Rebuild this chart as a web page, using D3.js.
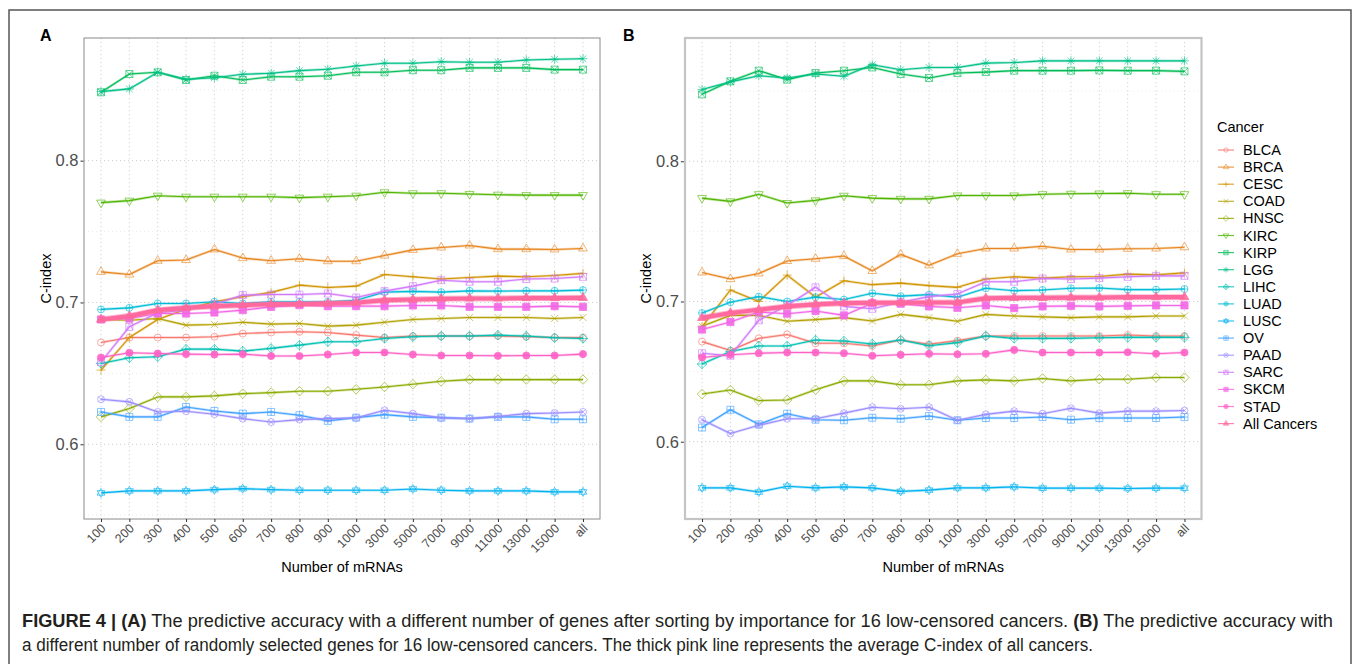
<!DOCTYPE html>
<html><head><meta charset="utf-8">
<script src="https://cdn.jsdelivr.net/npm/d3@7"></script>
<style>
body{margin:0;background:#fff;}
svg{display:block;font-family:"Liberation Sans",Arial,sans-serif;}
</style></head>
<body><svg id="c" width="1358" height="664"></svg>
<script>
// ---------------- data ----------------
const categories = ["100","200","300","400","500","600","700","800","900","1000","3000","5000","7000","9000","11000","13000","15000","all"];
const cancers = ["BLCA","BRCA","CESC","COAD","HNSC","KIRC","KIRP","LGG","LIHC","LUAD","LUSC","OV","PAAD","SARC","SKCM","STAD","All Cancers"];
const cancerColors = ["#F8766D","#E7851E","#D09400","#B2A100","#8BAB00","#4FB500","#00BC56","#00C087","#00C0B2","#00BCD6","#00B2F0","#3FA1FF","#9A8DFF","#D177FC","#F266E6","#FE61C6","#FF699E"];
const cancerShapes = [1,2,3,4,5,6,7,8,9,10,11,12,13,14,15,16,17];
const yTicks = [0.6,0.7,0.8];
const yMinorTicks = [0.55,0.65,0.75,0.85];

// Panel A: sorted by importance
const a_BLCA = [0.6718,0.6753,0.6753,0.6753,0.6758,0.6781,0.6788,0.6793,0.6788,0.6770,0.6753,0.6763,0.6763,0.6763,0.6763,0.6758,0.6753,0.6753];
const a_BRCA = [0.7216,0.7197,0.7294,0.7299,0.7374,0.7313,0.7294,0.7308,0.7291,0.7291,0.7331,0.7371,0.7388,0.7402,0.7376,0.7376,0.7374,0.7381];
const a_CESC = [0.6523,0.6753,0.6880,0.6953,0.7005,0.7040,0.7071,0.7122,0.7106,0.7115,0.7197,0.7181,0.7165,0.7176,0.7186,0.7181,0.7190,0.7205];
const a_COAD = [0.6880,0.6875,0.6887,0.6840,0.6845,0.6861,0.6847,0.6852,0.6833,0.6840,0.6861,0.6880,0.6887,0.6894,0.6894,0.6894,0.6887,0.6894];
const a_HNSC = [0.6193,0.6252,0.6334,0.6334,0.6341,0.6357,0.6364,0.6374,0.6374,0.6388,0.6404,0.6423,0.6444,0.6456,0.6456,0.6456,0.6456,0.6456];
const a_KIRC = [0.7704,0.7718,0.7753,0.7746,0.7746,0.7746,0.7746,0.7739,0.7746,0.7753,0.7777,0.7770,0.7770,0.7765,0.7760,0.7757,0.7757,0.7757];
const a_KIRP = [0.8482,0.8611,0.8623,0.8569,0.8599,0.8569,0.8592,0.8592,0.8599,0.8623,0.8623,0.8638,0.8638,0.8654,0.8654,0.8654,0.8642,0.8642];
const a_LGG  = [0.8487,0.8506,0.8623,0.8574,0.8585,0.8609,0.8616,0.8635,0.8645,0.8668,0.8687,0.8687,0.8698,0.8694,0.8694,0.8710,0.8715,0.8719];
const a_LIHC = [0.6570,0.6610,0.6617,0.6671,0.6671,0.6657,0.6676,0.6699,0.6723,0.6723,0.6746,0.6758,0.6763,0.6763,0.6770,0.6763,0.6751,0.6746];
const a_LUAD = [0.6951,0.6962,0.6993,0.6993,0.7005,0.6993,0.7005,0.7005,0.7005,0.7016,0.7073,0.7078,0.7073,0.7082,0.7080,0.7082,0.7082,0.7087];
const a_LUSC = [0.5657,0.5671,0.5671,0.5671,0.5680,0.5687,0.5680,0.5676,0.5676,0.5676,0.5676,0.5685,0.5676,0.5671,0.5671,0.5671,0.5664,0.5664];
const a_OV   = [0.6228,0.6193,0.6193,0.6263,0.6235,0.6216,0.6228,0.6205,0.6165,0.6188,0.6209,0.6193,0.6188,0.6181,0.6193,0.6193,0.6176,0.6176];
const a_PAAD = [0.6317,0.6299,0.6228,0.6233,0.6212,0.6181,0.6157,0.6174,0.6181,0.6186,0.6240,0.6216,0.6186,0.6181,0.6197,0.6216,0.6221,0.6228];
const a_SARC = [0.6580,0.6828,0.6927,0.6946,0.6988,0.7052,0.7056,0.7056,0.7063,0.7035,0.7080,0.7115,0.7157,0.7146,0.7146,0.7165,0.7169,0.7181];
const a_SKCM = [0.6880,0.6887,0.6922,0.6922,0.6929,0.6946,0.6969,0.6981,0.6974,0.6974,0.6974,0.6979,0.6979,0.6969,0.6969,0.6969,0.6974,0.6969];
const a_STAD = [0.6612,0.6645,0.6640,0.6636,0.6633,0.6636,0.6622,0.6622,0.6633,0.6647,0.6647,0.6633,0.6626,0.6626,0.6624,0.6626,0.6626,0.6636];
const a_ALL  = [0.6880,0.6904,0.6946,0.6962,0.6974,0.6981,0.6988,0.6988,0.6993,0.6998,0.7016,0.7021,0.7026,0.7028,0.7028,0.7031,0.7031,0.7033];

// Panel B: randomly selected
const b_BLCA = [0.6714,0.6650,0.6737,0.6765,0.6702,0.6702,0.6683,0.6725,0.6695,0.6721,0.6754,0.6754,0.6754,0.6754,0.6754,0.6761,0.6754,0.6754];
const b_BRCA = [0.7207,0.7160,0.7200,0.7289,0.7305,0.7324,0.7218,0.7336,0.7258,0.7340,0.7378,0.7378,0.7394,0.7371,0.7371,0.7376,0.7378,0.7387];
const b_CESC = [0.6819,0.7082,0.7000,0.7188,0.7031,0.7148,0.7120,0.7131,0.7113,0.7101,0.7160,0.7176,0.7167,0.7176,0.7178,0.7195,0.7190,0.7204];
const b_COAD = [0.6824,0.6901,0.6901,0.6859,0.6871,0.6885,0.6861,0.6908,0.6885,0.6859,0.6908,0.6897,0.6890,0.6885,0.6890,0.6890,0.6897,0.6897];
const b_HNSC = [0.6340,0.6369,0.6293,0.6298,0.6371,0.6434,0.6434,0.6406,0.6406,0.6434,0.6441,0.6434,0.6451,0.6434,0.6446,0.6446,0.6458,0.6458];
const b_KIRC = [0.7737,0.7714,0.7765,0.7702,0.7721,0.7754,0.7737,0.7732,0.7732,0.7756,0.7756,0.7756,0.7765,0.7768,0.7770,0.7772,0.7765,0.7765];
const b_KIRP = [0.8477,0.8570,0.8646,0.8582,0.8629,0.8646,0.8669,0.8622,0.8594,0.8629,0.8636,0.8646,0.8646,0.8646,0.8648,0.8646,0.8646,0.8641];
const b_LGG  = [0.8512,0.8566,0.8610,0.8594,0.8622,0.8606,0.8688,0.8653,0.8669,0.8669,0.8700,0.8704,0.8716,0.8716,0.8716,0.8716,0.8716,0.8716];
const b_LIHC = [0.6554,0.6643,0.6683,0.6683,0.6725,0.6718,0.6697,0.6725,0.6685,0.6707,0.6754,0.6737,0.6737,0.6737,0.6742,0.6744,0.6744,0.6744];
const b_LUAD = [0.6918,0.6995,0.7035,0.7000,0.7031,0.7014,0.7059,0.7038,0.7049,0.7031,0.7094,0.7077,0.7082,0.7094,0.7096,0.7085,0.7085,0.7089];
const b_LUSC = [0.5671,0.5671,0.5641,0.5683,0.5671,0.5678,0.5671,0.5646,0.5655,0.5671,0.5671,0.5678,0.5669,0.5669,0.5669,0.5667,0.5669,0.5669];
const b_OV   = [0.6101,0.6228,0.6124,0.6200,0.6157,0.6153,0.6171,0.6164,0.6183,0.6153,0.6169,0.6169,0.6176,0.6157,0.6169,0.6169,0.6169,0.6176];
const b_PAAD = [0.6157,0.6059,0.6117,0.6164,0.6164,0.6204,0.6246,0.6235,0.6246,0.6153,0.6195,0.6218,0.6200,0.6239,0.6204,0.6218,0.6218,0.6223];
const b_SARC = [0.6631,0.6613,0.6866,0.6972,0.7101,0.6965,0.6948,0.6995,0.7035,0.7054,0.7141,0.7141,0.7164,0.7160,0.7167,0.7176,0.7183,0.7183];
const b_SKCM = [0.6800,0.6854,0.6925,0.6913,0.6932,0.6901,0.6988,0.6984,0.6965,0.6955,0.6972,0.6953,0.6965,0.6969,0.6965,0.6969,0.6972,0.6972];
const b_STAD = [0.6601,0.6620,0.6631,0.6636,0.6636,0.6631,0.6613,0.6620,0.6627,0.6624,0.6627,0.6655,0.6636,0.6636,0.6636,0.6638,0.6627,0.6636];
const b_ALL  = [0.6883,0.6918,0.6941,0.6965,0.6979,0.6988,0.6991,0.6991,0.6993,0.6993,0.7023,0.7026,0.7026,0.7028,0.7028,0.7031,0.7031,0.7031];

const seriesA = [a_BLCA,a_BRCA,a_CESC,a_COAD,a_HNSC,a_KIRC,a_KIRP,a_LGG,a_LIHC,a_LUAD,a_LUSC,a_OV,a_PAAD,a_SARC,a_SKCM,a_STAD,a_ALL];
const seriesB = [b_BLCA,b_BRCA,b_CESC,b_COAD,b_HNSC,b_KIRC,b_KIRP,b_LGG,b_LIHC,b_LUAD,b_LUSC,b_OV,b_PAAD,b_SARC,b_SKCM,b_STAD,b_ALL];

const captionBold1 = "FIGURE 4 | (A)";
const captionText1 = " The predictive accuracy with a different number of genes after sorting by importance for 16 low-censored cancers. ";
const captionBold2 = "(B)";
const captionText2 = " The predictive accuracy with";
const captionLine2 = "a different number of randomly selected genes for 16 low-censored cancers. The thick pink line represents the average C-index of all cancers.";

// ---------------- drawing ----------------
const svg = d3.select("#c");

function shapePath(k, r) {
  const t = r * 1.45, d = r * 1.35;
  const sq = `M${-r},${-r}h${2*r}v${2*r}h${-2*r}Z`;
  const ci = `M${r},0A${r},${r} 0 1,1 ${-r},0A${r},${r} 0 1,1 ${r},0Z`;
  const triU = `M0,${-t}L${t*0.866},${t*0.5}L${-t*0.866},${t*0.5}Z`;
  const triD = `M0,${t}L${t*0.866},${-t*0.5}L${-t*0.866},${-t*0.5}Z`;
  const plus = (p) => `M${-p},0h${2*p}M0,${-p}v${2*p}`;
  const cross = (p) => `M${-p},${-p}L${p},${p}M${p},${-p}L${-p},${p}`;
  const dia = `M0,${-d}L${d},0L0,${d}L${-d},0Z`;
  switch (k) {
    case 0: return sq;
    case 1: return ci;
    case 2: return triU;
    case 3: return plus(r*1.3);
    case 4: return cross(r);
    case 5: return dia;
    case 6: return triD;
    case 7: return sq + cross(r);
    case 8: return plus(r*1.3) + cross(r*0.95);
    case 9: return dia + plus(d);
    case 10: return ci + plus(r);
    case 11: { const u = r*1.3; return `M0,${-u}L${u*0.866},${u*0.5}L${-u*0.866},${u*0.5}Z` + `M0,${u}L${u*0.866},${-u*0.5}L${-u*0.866},${-u*0.5}Z`; }
    case 12: return sq + plus(r);
    case 13: return ci + cross(r*0.707);
    case 14: return sq + `M${-r},${r}L0,${-r}L${r},${r}`;
    case 15: return sq;
    case 16: return ci;
    case 17: return triU;
  }
}

function drawPanel(cfg) {
  const x = d3.scalePoint().domain(categories).range([cfg.left, cfg.right]).padding(0.6);
  const y = d3.scaleLinear().domain(cfg.yDomain).range([cfg.bottom, cfg.top]);
  const g = svg.append("g");

  g.selectAll(".ymin").data(yMinorTicks.filter(v => v > cfg.yDomain[0] && v < cfg.yDomain[1])).join("line")
    .attr("x1", cfg.left).attr("x2", cfg.right).attr("y1", d => y(d)).attr("y2", d => y(d))
    .attr("stroke", "#e6e6e6").attr("stroke-width", 0.8).attr("stroke-dasharray", "1,3");
  g.selectAll(".ymaj").data(yTicks).join("line")
    .attr("x1", cfg.left).attr("x2", cfg.right).attr("y1", d => y(d)).attr("y2", d => y(d))
    .attr("stroke", "#cfcfcf").attr("stroke-width", 1).attr("stroke-dasharray", "1.2,2.8");
  g.selectAll(".xmaj").data(categories).join("line")
    .attr("x1", d => x(d)).attr("x2", d => x(d)).attr("y1", cfg.top).attr("y2", cfg.bottom)
    .attr("stroke", "#d2d2d2").attr("stroke-width", 1).attr("stroke-dasharray", "1.2,2.8");

  const line = d3.line().x((d, i) => x(categories[i])).y(d => y(d));
  cfg.series.forEach((vals, si) => {
    const col = cancerColors[si];
    const isAll = cancers[si] === "All Cancers";
    const sg = g.append("g");
    sg.append("path").datum(vals).attr("d", line).attr("fill", "none")
      .attr("stroke", col).attr("stroke-opacity", isAll ? 0.45 : 0.35).attr("stroke-width", isAll ? 6 : 2.6)
      .attr("stroke-linejoin", "round");
    sg.append("path").datum(vals).attr("d", line).attr("fill", "none")
      .attr("stroke", col).attr("stroke-width", isAll ? 4.2 : 1.1).attr("stroke-linejoin", "round");
    const shp = cancerShapes[si];
    const filled = shp >= 15;
    sg.selectAll("path.m").data(vals).join("path").attr("class", "m")
      .attr("transform", (d, i) => `translate(${x(categories[i])},${y(d)})`)
      .attr("d", shapePath(shp, filled ? 3.6 : 3.5))
      .attr("fill", filled ? col : "none")
      .attr("stroke", col).attr("stroke-width", filled ? 0.8 : 1)
      .attr("opacity", filled ? 0.9 : 0.62);
  });

  g.append("rect").attr("x", cfg.left).attr("y", cfg.top)
    .attr("width", cfg.right - cfg.left).attr("height", cfg.bottom - cfg.top)
    .attr("fill", "none").attr("stroke", cfg.frameColor).attr("stroke-width", cfg.frameWidth);

  const ya = g.append("g").attr("transform", `translate(${cfg.left - cfg.frameWidth/2},0)`)
    .call(d3.axisLeft(y).tickValues(yTicks).tickFormat(d3.format(".1f")).tickSize(3).tickPadding(2));
  ya.select(".domain").remove();
  ya.selectAll(".tick line").attr("stroke", "#333");
  ya.selectAll(".tick text").attr("fill", "#4d4d4d").attr("font-size", 16.5).attr("font-family", "Liberation Sans, Arial, sans-serif");

  const xa = g.append("g").attr("transform", `translate(0,${cfg.bottom})`)
    .call(d3.axisBottom(x).tickSize(3).tickPadding(2));
  xa.select(".domain").remove();
  xa.selectAll(".tick line").attr("stroke", "#333");
  xa.selectAll(".tick text").attr("fill", "#4d4d4d").attr("font-size", 12.5)
    .attr("font-family", "Liberation Sans, Arial, sans-serif")
    .attr("text-anchor", "end").attr("dy", null).attr("y", 0)
    .attr("transform", "translate(5,10) rotate(-45)");

  g.append("text").attr("x", (cfg.left + cfg.right) / 2).attr("y", 572).attr("text-anchor", "middle")
    .attr("font-size", 14.5).attr("fill", "#000").text("Number of mRNAs");
  g.append("text").attr("transform", `translate(${cfg.yTitleX},${(cfg.top + cfg.bottom) / 2}) rotate(-90)`)
    .attr("text-anchor", "middle").attr("font-size", 14.5).attr("fill", "#000").text("C-index");
  g.append("text").attr("x", cfg.labelX).attr("y", 41).attr("font-size", 16).attr("font-weight", "bold")
    .attr("fill", "#000").text(cfg.label);
}

svg.append("rect").attr("x", 9).attr("y", 10).attr("width", 1342).attr("height", 700)
  .attr("fill", "none").attr("stroke", "#555").attr("stroke-width", 1.5);

drawPanel({left: 84, right: 600, top: 38, bottom: 519, yDomain: [0.5473, 0.8865], series: seriesA,
  frameColor: "#8a8a8a", frameWidth: 1, yTitleX: 51, labelX: 40, label: "A"});
drawPanel({left: 685, right: 1201.5, top: 38, bottom: 519, yDomain: [0.5449, 0.8879], series: seriesB,
  frameColor: "#c4c4c4", frameWidth: 2.2, yTitleX: 651, labelX: 623, label: "B"});

const lg = svg.append("g");
lg.append("text").attr("x", 1217).attr("y", 132).attr("font-size", 14.5).attr("fill", "#000").text("Cancer");
cancers.forEach((name, i) => {
  const cy = 150 + i * 17.1;
  const col = cancerColors[i];
  const shp = cancerShapes[i];
  lg.append("line").attr("x1", 1218).attr("x2", 1234).attr("y1", cy).attr("y2", cy)
    .attr("stroke", col).attr("stroke-width", 1.2).attr("opacity", 0.8);
  lg.append("path").attr("transform", `translate(1226,${cy})`).attr("d", shapePath(shp, 2.2))
    .attr("fill", shp >= 15 ? col : "none").attr("stroke", col).attr("stroke-width", 0.8).attr("opacity", 0.7);
  lg.append("text").attr("x", 1243).attr("y", cy + 5).attr("font-size", 14.5).attr("fill", "#000").text(name);
});

const cap = svg.append("g").attr("font-family", "'Liberation Sans Narrow','Arial Narrow','Liberation Sans',Arial,sans-serif")
  .attr("font-size", 17.5).attr("fill", "#231f20");
const t1 = cap.append("text").attr("x", 22).attr("y", 627).attr("textLength", 1311).attr("lengthAdjust", "spacingAndGlyphs");
t1.append("tspan").attr("font-weight", "bold").text(captionBold1);
t1.append("tspan").text(captionText1);
t1.append("tspan").attr("font-weight", "bold").text(captionBold2);
t1.append("tspan").text(captionText2);
cap.append("text").attr("x", 22).attr("y", 651).attr("textLength", 1071).attr("lengthAdjust", "spacingAndGlyphs").text(captionLine2);
</script>
</body></html>
